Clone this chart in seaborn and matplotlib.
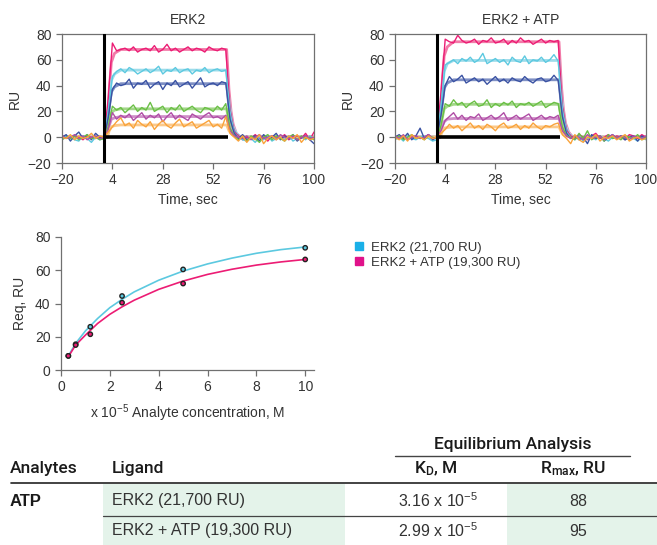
import matplotlib
matplotlib.use("Agg")
import matplotlib.pyplot as plt
import matplotlib.patches as mpatches
from matplotlib.lines import Line2D
import seaborn as sns
import pandas as pd

# ---------------- data ----------------
# sensorgram sample times (sec) and traces
t_raw = list(range(-20, 101, 2))
conc_labels = ["c6", "c5", "c4", "c3", "c2", "c1"]  # high -> low

erk2_raw = {
    "c6": [1, 0, -1, 1, 0, -2, 1, 0, -1, 0, -1, 30,
           73, 67, 68, 69, 67, 70, 66, 68, 69, 67, 71, 66, 68, 72, 67, 69, 66, 68, 70, 67, 69, 68, 66, 70, 68, 67, 69, 68,
           22, 4, 1, -2, 0, -1, 2, -1, 0, -3, 1, 0, -1, 2, -2, 0, 1, -1, 3, -2, 4],
    "c5": [-1, 1, 0, -2, -3, 1, -1, -4, 0, -2, -1, 20,
           47, 51, 53, 50, 54, 52, 49, 51, 53, 50, 52, 55, 49, 52, 51, 54, 50, 52, 53, 49, 52, 51, 54, 50, 52, 53, 51, 52,
           20, 3, 0, -2, -3, -1, -4, 0, -2, 1, -3, -1, 0, -2, 1, -3, -1, 0, -2, 1, -1],
    "c4": [0, 2, -3, 1, 4, -1, 2, -2, 3, 0, -1, 15,
           37, 42, 40, 41, 45, 38, 42, 41, 44, 38, 41, 43, 37, 42, 40, 44, 39, 41, 43, 38, 42, 46, 39, 41, 42, 40, 43, 42,
           14, 3, -1, 2, -2, 0, 1, -3, 2, -1, 0, 3, -2, 1, -1, 2, -3, 0, 1, -2, -5],
    "c3": [-2, 0, -1, 1, -2, 0, 2, -1, 0, -2, -1, 8,
           24, 21, 23, 19, 22, 25, 20, 23, 21, 27, 20, 22, 24, 19, 23, 21, 25, 20, 22, 24, 21, 19, 23, 22, 20, 24, 21, 26,
           7, 1, -2, 0, -3, 1, -1, -4, 0, 2, -2, 1, -1, -3, 0, 2, -2, 1, -1, 0, -2],
    "c2": [1, -1, 0, 2, -1, 1, -2, 0, 1, -1, 0, 6,
           19, 14, 17, 15, 18, 13, 16, 19, 14, 17, 15, 18, 12, 16, 19, 14, 17, 15, 13, 18, 16, 14, 17, 19, 15, 16, 14, 17,
           5, 1, 0, -1, 1, -2, 0, 2, -1, 0, 1, -2, 2, 0, -1, 1, -2, 0, 1, -1, 0],
    "c1": [0, -1, 2, -2, 1, -1, 0, 3, -1, 1, 0, 4,
           8, 12, 15, 9, 11, 7, 13, 10, 8, 12, 6, 10, 13, 9, 7, 11, 14, 8, 10, 12, 7, 9, 11, 13, 8, 10, 7, 16,
           3, 0, -3, 1, -4, 0, -2, 2, -5, -1, 1, -2, 0, -3, 1, -1, 2, -4, 0, -2, -1],
}

atp_raw = {
    "c6": [-1, 0, 1, -2, 0, 1, -1, 0, 2, -1, 0, 35,
           76, 74, 73, 79, 75, 73, 74, 76, 72, 75, 74, 77, 73, 74, 76, 72, 75, 73, 77, 74, 75, 72, 74, 76, 73, 75, 74, 75,
           25, 5, 1, -1, 2, 0, -2, 1, 3, -1, 0, 2, -1, 1, 0, -2, 2, 1, -1, 2, 0],
    "c5": [-2, 0, -3, 1, -1, -2, 0, 1, -1, -3, -2, 25,
           56, 58, 60, 57, 61, 59, 62, 58, 60, 65, 57, 59, 61, 58, 60, 56, 62, 59, 58, 63, 57, 60, 59, 62, 58, 60, 64, 59,
           22, 4, 0, -2, 1, -3, -1, 0, -2, 1, -1, -3, 0, -1, 1, -2, 0, -1, -3, 0, -2],
    "c4": [0, 2, -1, 3, -2, 1, 7, -1, 2, -2, 0, 17,
           40, 47, 43, 45, 48, 42, 44, 46, 43, 45, 41, 44, 47, 43, 45, 42, 46, 44, 43, 47, 44, 42, 45, 46, 43, 44, 48, 44,
           16, 3, -1, 1, -2, 0, -5, 2, -1, 1, -3, 0, 2, -1, 1, -2, 0, 1, -3, 1, -1],
    "c3": [-1, 1, -2, 0, 2, -1, 0, -2, 1, 0, -1, 9,
           26, 24, 29, 25, 27, 23, 26, 28, 24, 25, 29, 23, 26, 24, 27, 25, 28, 23, 26, 25, 27, 24, 26, 28, 23, 25, 27, 26,
           8, 1, 0, -2, 3, -1, 5, -2, 0, 1, -3, 2, -1, 0, -2, 1, 0, -1, 2, -2, 0],
    "c2": [1, -1, 2, -2, 0, 1, -1, 0, 2, -1, 0, 5,
           13, 16, 19, 14, 17, 13, 16, 15, 18, 13, 15, 17, 14, 16, 19, 13, 15, 17, 14, 16, 18, 13, 15, 17, 14, 16, 15, 17,
           5, 1, -1, 1, 0, -2, 2, -1, 0, 1, -2, 0, 2, -1, 1, 0, -2, 1, 0, -1, 1],
    "c1": [0, -2, 1, -3, 2, -1, 0, -2, 1, -1, 0, 3,
           6, 10, 7, 9, 5, 8, 11, 7, 9, 6, 10, 8, 5, 9, 11, 7, 8, 10, 6, 9, 7, 11, 8, 6, 9, 8, 10, 11,
           2, -1, -5, 2, -2, -4, 0, -1, 2, -3, 0, -1, 1, -2, 0, 2, -3, -1, 0, -2, -1],
}

# fitted kinetic curves (smooth), read at a few times
t_fit = [-20, 1.5, 2.5, 3.5, 5, 8, 58.4, 59.5, 60.5, 61.5, 63, 65, 100]
erk2_fit = {
    "c6": [0, 0, 37, 58, 65, 68, 68, 37, 20, 10, 3, 0, 0],
    "c5": [0, 0, 29, 44, 49, 52, 52, 29, 16, 8, 3, 0, 0],
    "c4": [0, 0, 23, 35, 39, 41.5, 41.5, 23, 12, 6, 2, 0, 0],
    "c3": [0, 0, 12, 19, 21, 22, 22, 12, 7, 3, 1, 0, 0],
    "c2": [0, 0, 9, 14, 15, 16, 16, 9, 5, 2, 1, 0, 0],
    "c1": [0, 0, 5, 8, 9, 9.5, 9.5, 5, 3, 1.5, 0.5, 0, 0],
}
atp_fit = {
    "c6": [0, 0, 41, 63, 70, 74, 74, 41, 22, 11, 4, 0, 0],
    "c5": [0, 0, 33, 51, 57, 59.5, 59.5, 33, 18, 9, 3, 0, 0],
    "c4": [0, 0, 24, 38, 42, 44.5, 44.5, 24, 13, 7, 2, 0, 0],
    "c3": [0, 0, 14, 22, 24, 25.5, 25.5, 14, 8, 4, 1, 0, 0],
    "c2": [0, 0, 8, 12, 14, 14.5, 14.5, 8, 4, 2, 1, 0, 0],
    "c1": [0, 0, 4, 7, 7.5, 8, 8, 4, 2, 1, 0.5, 0, 0],
}

# buffer reference trace
ref_t = [1, 59]
ref_y = [0, 0]
inject_t = 0

# equilibrium analysis
conc = [0.3, 0.6, 1.2, 2.5, 5, 10]
req_erk2 = [8.5, 15.5, 26, 44.5, 60.5, 73.5]
req_atp = [8.5, 15, 21.5, 40.5, 52, 66.5]
fit_conc = [0.3, 0.6, 1, 1.5, 2, 2.5, 3, 4, 5, 6, 7, 8, 9, 10]
fit_erk2 = [8.5, 16, 23.5, 31, 37.5, 42.5, 47, 54, 59.5, 63.8, 67.3, 70.2, 72.4, 74]
fit_atp = [8, 15, 21, 28, 33.5, 38, 42, 48.5, 53.5, 57.5, 60.6, 63.1, 65, 66.5]

legend_labels = ["ERK2 (21,700 RU)", "ERK2 + ATP (19,300 RU)"]

table_header = ["Analytes", "Ligand", "K$_\\mathregular{D}$, M", "R$_\\mathregular{max}$, RU"]
table_analyte = "ATP"
table_ligands = ["ERK2 (21,700 RU)", "ERK2 + ATP (19,300 RU)"]
table_kd = ["3.16 x 10$^{\\mathregular{-5}}$", "2.99 x 10$^{\\mathregular{-5}}$"]
table_rmax = ["88", "95"]

# ---------------- style ----------------
sns.set_style("ticks")
plt.rcParams["font.family"] = ["Liberation Sans", "DejaVu Sans"]
plt.rcParams["mathtext.fontset"] = "custom"
plt.rcParams["mathtext.rm"] = "Liberation Sans"
plt.rcParams["mathtext.it"] = "Liberation Sans"
plt.rcParams["mathtext.default"] = "regular"
TXT = "#333333"
SPN = "#707070"

raw_pal = {"c6": "#ec1c74", "c5": "#5cc9e0", "c4": "#3a52a3",
           "c3": "#6abf45", "c2": "#b04ea6", "c1": "#f9a33b"}
fit_pal = {"c6": "#f27aa8", "c5": "#9ddcea", "c4": "#7f90c4",
           "c3": "#a3d68a", "c2": "#cf8fc8", "c1": "#fbc98a"}

fig = plt.figure(figsize=(6.57, 5.45), dpi=100)
W, H = 657, 545


def style_axes(ax, box=True):
    for s in ax.spines.values():
        s.set_color(SPN)
        s.set_linewidth(0.9)
    if not box:
        ax.spines["top"].set_visible(False)
        ax.spines["right"].set_visible(False)
    ax.tick_params(colors=SPN, labelcolor=TXT, labelsize=10, length=4, width=0.9)


def sensorgram(rect, raw, fit, title):
    ax = fig.add_axes(rect)
    raw_df = pd.DataFrame([(t, v, c) for c in conc_labels for t, v in zip(t_raw, raw[c])],
                          columns=["time", "RU", "conc"])
    fit_df = pd.DataFrame([(t, v, c) for c in conc_labels for t, v in zip(t_fit, fit[c])],
                          columns=["time", "RU", "conc"])
    sns.lineplot(data=fit_df, x="time", y="RU", hue="conc", palette=fit_pal,
                 linewidth=2.0, legend=False, ax=ax, estimator=None, sort=False)
    sns.lineplot(data=raw_df, x="time", y="RU", hue="conc", palette=raw_pal,
                 linewidth=1.0, legend=False, ax=ax, estimator=None, sort=False)
    ax.plot(ref_t, ref_y, color="black", linewidth=2.6, zorder=5, solid_capstyle="butt")
    ax.axvline(inject_t, color="black", linewidth=2.2, zorder=6)
    ax.set_xlim(-20, 100)
    ax.set_ylim(-20, 80)
    ax.set_xticks([-20, 4, 28, 52, 76, 100])
    ax.set_yticks([-20, 0, 20, 40, 60, 80])
    ax.set_xlabel("Time, sec", fontsize=10, color=TXT, labelpad=4)
    ax.set_ylabel("RU", fontsize=10, color=TXT, labelpad=4)
    ax.set_title(title, fontsize=10, color=TXT, pad=7)
    style_axes(ax)
    return ax


sensorgram([62 / W, 1 - 163 / H, 252 / W, 129 / H], erk2_raw, erk2_fit, "ERK2")
sensorgram([395 / W, 1 - 163 / H, 251 / W, 129 / H], atp_raw, atp_fit, "ERK2 + ATP")

# equilibrium plot
ax3 = fig.add_axes([61 / W, 1 - 370 / H, 253 / W, 133 / H])
fit_df = pd.DataFrame({"conc": fit_conc * 2, "Req": fit_erk2 + fit_atp,
                       "ligand": ["erk2"] * len(fit_conc) + ["atp"] * len(fit_conc)})
pts_df = pd.DataFrame({"conc": conc * 2, "Req": req_erk2 + req_atp,
                       "ligand": ["erk2"] * len(conc) + ["atp"] * len(conc)})
eq_pal = {"erk2": "#5cc9e0", "atp": "#ec1c74"}
sns.lineplot(data=fit_df, x="conc", y="Req", hue="ligand", palette=eq_pal,
             linewidth=1.2, legend=False, ax=ax3)
sns.scatterplot(data=pts_df, x="conc", y="Req", hue="ligand", palette=eq_pal,
                s=10, edgecolor="#222222", linewidth=1.0, legend=False, ax=ax3, zorder=5)
ax3.set_xlim(0, 10.36)
ax3.set_ylim(0, 80)
ax3.set_xticks([0, 2, 4, 6, 8, 10])
ax3.set_yticks([0, 20, 40, 60, 80])
ax3.set_xlabel("x 10$^{\\mathregular{-5}}$ Analyte concentration, M", fontsize=10, color=TXT, labelpad=6)
ax3.set_ylabel("Req, RU", fontsize=10, color=TXT, labelpad=6)
style_axes(ax3, box=False)

handles = [Line2D([], [], marker="s", linestyle="none", markersize=6,
                  markerfacecolor=c, markeredgecolor=c) for c in ["#1ab0e8", "#e0128a"]]
fig.legend(handles, legend_labels, loc="upper left", bbox_to_anchor=(350 / W, 1 - 236 / H),
           frameon=False, fontsize=9.5, handlelength=0.6, handletextpad=0.6,
           labelspacing=0.25, borderaxespad=0, labelcolor=TXT)

# ---------------- table ----------------
tb = fig.add_axes([0, 0, 1, 1], zorder=-1)
tb.set_xlim(0, W)
tb.set_ylim(H, 0)
tb.axis("off")
GREEN = "#e4f3ea"
HEAD = dict(family=["Roboto", "Liberation Sans"], weight="medium", color="#1a1a1a")
row_y = [501, 531]
row_span = [(484, 515.5), (516.5, 545)]
for (y0, y1) in row_span:
    tb.add_patch(mpatches.Rectangle((103, y0), 242, y1 - y0, color=GREEN, lw=0))
    tb.add_patch(mpatches.Rectangle((507, y0), 150, y1 - y0, color=GREEN, lw=0))
tb.plot([103, 657], [516, 516], color="#444444", lw=0.9)
tb.plot([11, 657], [483, 483], color="#222222", lw=1.2)
tb.plot([395, 630], [456, 456], color="#444444", lw=1.0)
tb.text(513, 444, "Equilibrium Analysis", ha="center", va="center", fontsize=12.5, **HEAD)
hx = [(10, "left"), (112, "left"), (436, "center"), (573, "center")]
for (x, ha), lab in zip(hx, table_header):
    tb.text(x, 469, lab, ha=ha, va="center", fontsize=12.5, **HEAD)
tb.text(10, row_y[0], table_analyte, ha="left", va="center", fontsize=12, weight="bold", color="#1a1a1a")
for y, lig, kd, rm in zip(row_y, table_ligands, table_kd, table_rmax):
    tb.text(112, y, lig, ha="left", va="center", fontsize=11.5, color=TXT)
    tb.text(438, y, kd, ha="center", va="center", fontsize=11.5, color=TXT)
    tb.text(578, y, rm, ha="center", va="center", fontsize=11.5, color=TXT)

fig.savefig("out.png", dpi=100)
